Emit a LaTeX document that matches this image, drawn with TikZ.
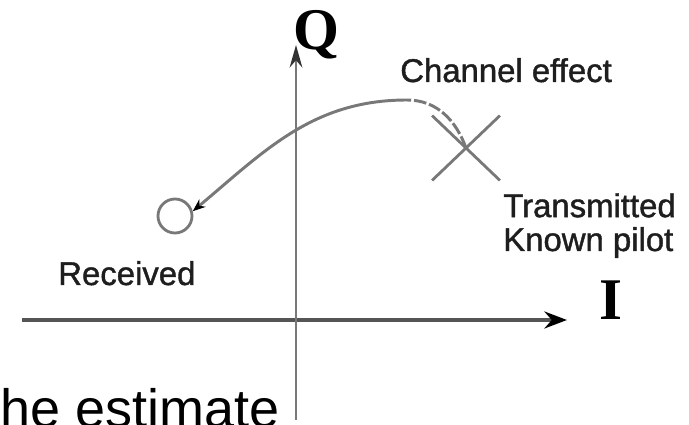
\documentclass[tikz,border=0pt]{standalone}
\usepackage{fontspec}
\setmainfont{Liberation Sans}
\newfontfamily\axisfont{Liberation Serif}
\newfontfamily\lblfont{Liberation Sans}[FakeBold=1.2]
\usepackage{xcolor}
\definecolor{iqgray}{RGB}{120,120,120}
\definecolor{iqdark}{RGB}{85,85,85}
\definecolor{iqtext}{RGB}{30,30,30}
\usetikzlibrary{arrows.meta,positioning,shapes.misc}

\begin{document}
\begin{tikzpicture}[
  lbl/.style={inner sep=0pt,text=iqtext,font=\lblfont\fontsize{23.4}{24.1}\selectfont},
  axislbl/.style={inner sep=0pt,text=black,font=\axisfont\bfseries\fontsize{42}{42}\selectfont},
  curve/.style={iqgray,line width=2.1pt}]
  \useasboundingbox (-7.4,-2.625) rectangle (9.825,8);
  % Axes
  \coordinate (iL) at (-6.85,0);
  \coordinate (iR) at (6.775,0);
  \coordinate (qB) at (0,-2.5);
  \coordinate (qT) at (0,6.875);
  \draw[line width=3.5pt,iqdark,-{Stealth[length=16pt,width=12pt,black]}] (iL) -- (iR);
  \draw[line width=2pt,iqgray,-{Stealth[length=16pt,width=9pt,black!80]}] (qB) -- (qT);
  \node[axislbl,anchor=base] (q) at (0.5,6.75) {Q};
  \node[axislbl,anchor=base] (i) at (7.875,0) {I};
  % Pilot and received symbol
  \node[draw,cross out,iqgray,line width=2pt,minimum width=1.625cm,minimum height=1.55cm,inner sep=0pt] (tx) at (4.25,4.3) {};
  \node[draw,circle,iqgray,line width=2pt,minimum size=0.85cm,inner sep=0pt] (rx) at (-3.025,2.6) {};
  % Channel effect
  \coordinate (peak) at (2.775,5.5);
  \draw[curve,dash pattern=on 9pt off 2pt] (tx.center) to[out=110,in=0] (peak);
  \draw[curve,-{Stealth[length=9pt,width=7pt,black]}] (peak) to[out=180,in=40] (rx.15);
  % Labels
  \node[lbl,anchor=base west] (chan) at (2.6,5.95) {Channel effect};
  \node[lbl,anchor=north west,align=left] (pilot) at (5.175,3.175) {Transmitted\\Known pilot};
  \node[lbl,anchor=base west] (recv) at (-5.95,0.875) {Received};
  \node[inner sep=0pt,anchor=base west,text=black,font=\fontsize{38.4}{40}\selectfont] (est) at (-7.775,-2.7) {the estimate};
\end{tikzpicture}
\end{document}
